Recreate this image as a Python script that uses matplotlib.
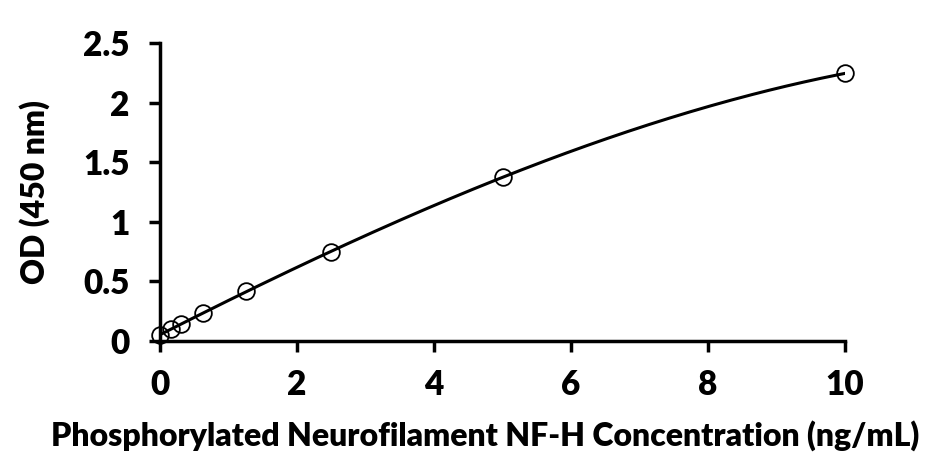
import numpy as np
import matplotlib.pyplot as plt

plt.rcParams['font.family'] = ['Lato', 'DejaVu Sans']
plt.rcParams['font.weight'] = 'heavy'

# standard concentrations (ng/mL) and measured OD
conc = [0, 0.156, 0.3125, 0.625, 1.25, 2.5, 5, 10]
od = [0.05, 0.10, 0.14, 0.235, 0.42, 0.745, 1.375, 2.245]
x_ticks = [0, 2, 4, 6, 8, 10]
y_ticks = [0, 0.5, 1, 1.5, 2, 2.5]
y_labels = ['0', '0.5', '1', '1.5', '2', '2.5']

fig = plt.figure(figsize=(9.43, 4.62), dpi=100)
ax = fig.add_axes([160 / 943, 121 / 462, 685 / 943, 298 / 462])

# fitted standard curve
coef = np.polyfit(conc, od, 3)
xs = np.linspace(0, 10, 200)
ax.plot(xs, np.polyval(coef, xs), color='black', lw=2.2, zorder=2)
ax.plot(conc, od, 'o', ms=12, mfc='none', mec='black', mew=1.3,
        clip_on=False, zorder=3)

ax.set_xlim(0, 10)
ax.set_ylim(0, 2.5)
ax.set_xticks(x_ticks)
ax.set_yticks(y_ticks)
ax.set_yticklabels(y_labels)
for s in ['top', 'right']:
    ax.spines[s].set_visible(False)
for s in ['left', 'bottom']:
    ax.spines[s].set_linewidth(2.5)
ax.tick_params(width=2.5, length=8, labelsize=24)
ax.tick_params(axis='y', pad=14)
ax.tick_params(axis='x', pad=12)

ax.set_xlabel('Phosphorylated Neurofilament NF-H Concentration (ng/mL)',
              fontsize=23, fontweight='heavy', labelpad=14)
ax.xaxis.label.set_x(0.474)
ax.set_ylabel('OD (450 nm)', fontsize=23, fontweight='heavy', labelpad=24)

fig.savefig('out.png', dpi=100)
